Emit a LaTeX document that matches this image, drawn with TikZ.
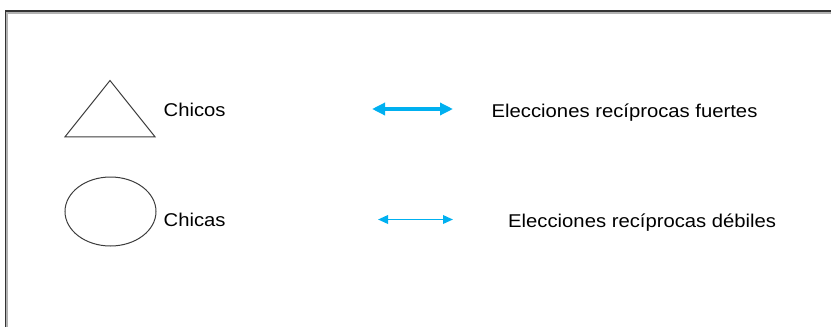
\documentclass[tikz,border=0pt]{standalone}
\usepackage{fontspec}
\setmainfont{Liberation Sans}[FakeStretch=1.095]
\usetikzlibrary{arrows.meta,shapes.geometric}
\definecolor{flecha}{RGB}{0,176,240}
\definecolor{trazo}{RGB}{60,60,60}

\begin{document}
\begin{tikzpicture}[x=1pt,y=-1pt,
    label/.style ={anchor=base west, inner sep=0pt, font=\fontsize{18.5}{22}\selectfont, text=black},
    symbol/.style ={draw=trazo, line width=1pt},
    strong/.style ={flecha, line width=3.6pt, {Triangle[length=13pt,width=12pt]}-{Triangle[length=13pt,width=12pt]}},
    weak/.style ={flecha, line width=1.9pt, {Triangle[length=10pt,width=8.5pt]}-{Triangle[length=10pt,width=8.5pt]}}]
   \useasboundingbox (0,0) rectangle (831,327);

   % marco
   \draw[line width=1.6pt, black!80] (5.5,327) |- (831,11);
   \draw[line width=1.6pt, black!30] (7.2,327) |- (831,12.8);

   % simbolos
   \draw[symbol] (110,80.5) -- (155,136.8) -- (65,136.8) -- cycle;
   \node[symbol, ellipse, minimum width=91pt, minimum height=69pt, inner sep=0pt] (chicas) at (110.5,211.5) {};

   \node[label] (tchicos) at (163.5,116) {Chicos};
   \node[label] (tchicas) at (163.5,226.5) {Chicas};

   % flechas
   \coordinate (F1) at (372,109);
   \coordinate (F2) at (453,109);
   \coordinate (D1) at (378,219.5);
   \coordinate (D2) at (453,219.5);
   \draw[strong] (F1) to (F2);
   \draw[weak] (D1) to (D2);

   \node[label] (tfuertes) at (491.5,117.5) {Elecciones recíprocas fuertes};
   \node[label] (tdebiles) at (508,227.5) {Elecciones recíprocas débiles};
\end{tikzpicture}
\end{document}
